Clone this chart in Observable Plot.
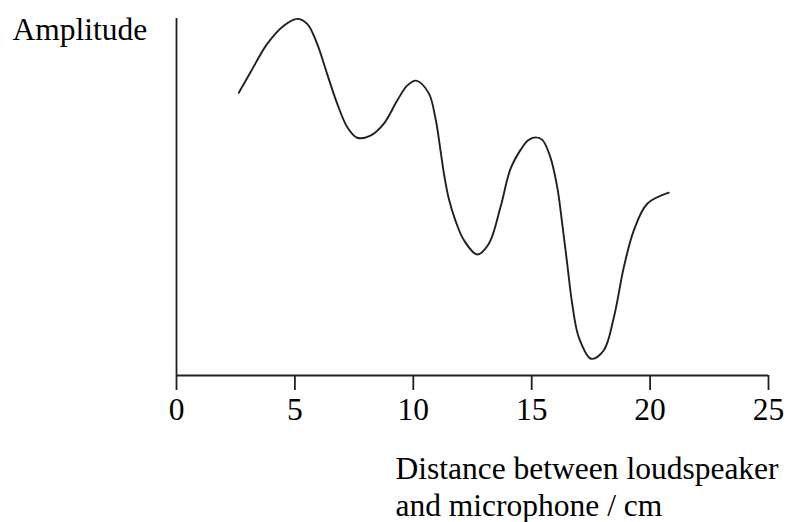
<!DOCTYPE html>
<html>
<head>
<meta charset="utf-8">
<script src="https://cdn.jsdelivr.net/npm/d3@7"></script>
<script src="https://cdn.jsdelivr.net/npm/@observablehq/plot@0.6"></script>
<style>
  html, body { margin: 0; padding: 0; background: #fff; }
</style>
</head>
<body>
<div id="chart"></div>
<script>
// Distance (cm)
const distance = [2.63, 3.13, 3.83, 4.53, 5.10, 5.52, 5.94, 6.36, 6.79, 7.21, 7.63, 8.19, 8.75, 9.32, 9.74, 10.12, 10.65, 10.94, 11.15, 11.29, 11.50, 11.78, 12.13, 12.70, 13.19, 13.68, 14.10, 14.53, 14.85, 15.16, 15.45, 15.79, 16.08, 16.29, 16.50, 16.71, 16.99, 17.51, 18.04, 18.47, 18.89, 19.31, 19.88, 20.79];
// Amplitude (arbitrary units, 0 = axis, 100 = top of axis)
const amplitude = [79.2, 85.0, 92.9, 98.0, 99.9, 98.5, 92.9, 84.5, 76.1, 69.6, 66.6, 67.2, 70.5, 77.0, 81.2, 82.6, 79.1, 71.9, 63.0, 56.7, 49.5, 43.4, 38.0, 33.9, 36.9, 47.1, 57.8, 63.2, 65.9, 66.7, 66.0, 61.1, 52.7, 42.5, 31.3, 20.1, 10.7, 4.7, 7.0, 16.3, 30.3, 40.6, 48.1, 51.2];
const xTicks = [0, 5, 10, 15, 20, 25];
const yLabel = "Amplitude";
const xLabel = "Distance between loudspeaker\nand microphone / cm";

const data = distance.map((d, i) => ({x: d, y: amplitude[i]}));
const ink = "#231f20";
const font = "'Liberation Serif', 'Times New Roman', serif";
const fs = 31.5;

const chart = Plot.plot({
  width: 792,
  height: 522,
  marginLeft: 176,
  marginRight: 24,
  marginTop: 18,
  marginBottom: 147,
  style: {fontFamily: font, fontSize: fs + "px", color: "#000", background: "#fff"},
  x: {domain: [0, 25]},
  y: {domain: [0, 100], axis: null},
  marks: [
    Plot.axisX({ticks: xTicks, tickSize: 15, tickPadding: 7, tickFormat: d => String(d), fontSize: fs, stroke: ink, strokeWidth: 1.8, strokeOpacity: 1, fill: "#000", label: null}),
    Plot.ruleX([0], {y1: 0, y2: 100, stroke: ink, strokeWidth: 1.8}),
    Plot.ruleY([0], {x1: 0, x2: 25, stroke: ink, strokeWidth: 1.8}),
    Plot.line(data, {x: "x", y: "y", curve: "catmull-rom", stroke: ink, strokeWidth: 1.9}),
    Plot.text([yLabel], {text: d => d, frameAnchor: "top-left", textAnchor: "start", lineAnchor: "bottom", dx: -164, dy: 21, fontSize: fs, fill: "#000"}),
    Plot.text([xLabel], {text: d => d, frameAnchor: "bottom-left", textAnchor: "start", lineAnchor: "top", lineHeight: 1.17, dx: 219, dy: 77, fontSize: fs, fill: "#000"})
  ]
});
document.getElementById("chart").append(chart);
</script>
</body>
</html>
